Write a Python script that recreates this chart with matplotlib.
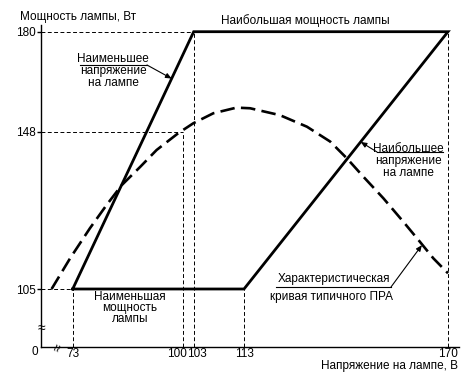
"""Lamp power vs lamp voltage: operating window of a lamp and a typical ballast curve."""
import numpy as np
import matplotlib
matplotlib.use("Agg")
import matplotlib.pyplot as plt  # noqa: E402
from matplotlib.transforms import ScaledTranslation  # noqa: E402

plt.rcParams["font.family"] = ["Liberation Sans", "DejaVu Sans"]

# ticks
U_TICKS = [73, 100, 103, 113, 170]
P_TICKS = [105, 148, 180]

# operating window (solid outline): min/max voltage lines, min/max power
WIN_U = [73, 103, 170, 113, 73]
WIN_P = [105, 180, 180, 105, 105]

# characteristic curve of a typical ballast (dashed)
CURVE_U = [68.1, 72.4, 77.0, 80.9, 84.4, 88.7, 92.9, 98.8, 102.9, 106.9, 111.5,
           114.6, 122.4, 129.5, 135.6, 140.0, 144.3, 150.2, 156.3, 161.4, 165.5, 170]
CURVE_P = [105, 113.4, 121.6, 128.0, 133.4, 138.4, 143.0, 147.6, 150.7, 153.9, 155.7,
           155.5, 153.3, 149.6, 145.3, 140.7, 135.7, 129.8, 123.4, 117.9, 113.4, 109.3]

# dashed reference lines (voltage, power) drawn down to the axes
GUIDE_U = [73, 100, 103, 113, 170]
GUIDE_P = [105, 148, 180, 105, 180]
GUIDE_H = [True, True, True, False, False]

# schematic (non-linear, broken) axes as in the original drawing
X_KNOTS_V = [-50, 0, 66.5, 73, 90.2, 103, 113, 145.7, 170, 250]
X_KNOTS_PX = [-12.9, 0, 3.7, 31.7, 105.7, 152.7, 203, 327.7, 407, 667.8]
Y_KNOTS_V = [-50, 0, 94.6, 105, 148, 180, 250]
Y_KNOTS_PX = [-10.6, 0, 20, 58, 215.3, 315.3, 534.1]


def xf(v):
    return np.interp(v, X_KNOTS_V, X_KNOTS_PX)


def xi(p):
    return np.interp(p, X_KNOTS_PX, X_KNOTS_V)


def yf(v):
    return np.interp(v, Y_KNOTS_V, Y_KNOTS_PX)


def yi(p):
    return np.interp(p, Y_KNOTS_PX, Y_KNOTS_V)


W, H = 476, 378
XMAX, YMAX = 173.4, 182


def fp(x, y):
    """reference pixel -> figure fraction"""
    return x / W, 1 - y / H


fig = plt.figure(figsize=(W / 100, H / 100), dpi=100)
ax = fig.add_axes([41 / W, 31 / H, float(xf(XMAX)) / W, float(yf(YMAX)) / H])
ax.set_xscale("function", functions=(xf, xi))
ax.set_yscale("function", functions=(yf, yi))
ax.set_xlim(0, XMAX)
ax.set_ylim(0, YMAX)

guide = dict(color="black", lw=0.7, ls=(0, (4, 2.5)))
for u, p, h in zip(GUIDE_U, GUIDE_P, GUIDE_H):
    ax.plot([u, u], [0, p], **guide)
    if h:
        ax.plot([0, u], [p, p], **guide)

ax.plot(WIN_U, WIN_P, color="black", lw=2.0, solid_joinstyle="miter")
ax.plot(CURVE_U, CURVE_P, color="black", lw=1.9, ls=(0, (5.5, 2.4)))

for s in ("top", "right"):
    ax.spines[s].set_visible(False)
for s in ("left", "bottom"):
    ax.spines[s].set_linewidth(1.0)
fs = 8.5
ax.set_xticks(U_TICKS)
ax.set_xticklabels([str(u) for u in U_TICKS])
ax.set_yticks(P_TICKS)
ax.set_yticklabels([str(p) for p in P_TICKS])
ax.xaxis.set_minor_locator(matplotlib.ticker.NullLocator())
ax.yaxis.set_minor_locator(matplotlib.ticker.NullLocator())
ax.tick_params(axis="x", length=0, pad=1, labelsize=fs)
ax.tick_params(axis="y", length=3, width=1, pad=1, labelsize=fs)
# "100" and "103" are squeezed apart as in the original
for lab, dx in zip(ax.get_xticklabels(), [0, -6, 3, 0, 0]):
    lab.set_transform(lab.get_transform() + ScaledTranslation(dx / 100, 0, fig.dpi_scale_trans))

# axis breaks and origin
fig.text(*fp(41, 328), "≈", fontsize=10, ha="center", va="center")
fig.text(*fp(58, 348), "≈", fontsize=10, ha="center", va="center", rotation=70)
fig.text(*fp(35, 352), "0", fontsize=fs, ha="center", va="center")

fig.text(*fp(20, 17), "Мощность лампы, Вт", fontsize=fs, ha="left", va="center")
fig.text(*fp(305, 21), "Наибольшая мощность лампы", fontsize=fs, ha="center", va="center")
fig.text(*fp(458, 366), "Напряжение на лампе, В", fontsize=fs, ha="right", va="center")
fig.text(*fp(130, 308), "Наименьшая\nмощность\nлампы", fontsize=fs, ha="center",
         va="center", linespacing=0.9)
fig.text(*fp(113, 71), "Наименьшее\nнапряжение\nна лампе", fontsize=fs, ha="center",
         va="center", linespacing=1.05)
fig.text(*fp(408, 161), "Наибольшее\nнапряжение\nна лампе", fontsize=fs, ha="center",
         va="center", linespacing=1.05)
fig.text(*fp(334, 279), "Характеристическая", fontsize=fs, ha="center", va="center")
fig.text(*fp(332, 297), "кривая типичного ПРА", fontsize=fs, ha="center", va="center")

# leader lines with arrows
arrow = dict(arrowstyle="-|>,head_length=0.35,head_width=0.15", color="black", lw=0.8,
             shrinkA=0, shrinkB=0)
for (x0, x1, y), target in [((80, 147, 65), (97, 165)),
                            ((443, 377, 152), (143.6, 145.2)),
                            ((276, 391, 287), (162, 117))]:
    fig.add_artist(plt.Line2D([x0 / W, x1 / W], [1 - y / H, 1 - y / H], color="black", lw=0.8))
    ax.annotate("", xy=target, xycoords="data", xytext=fp(x1, y),
                textcoords="figure fraction", arrowprops=arrow)

fig.savefig("out.png", dpi=100)
